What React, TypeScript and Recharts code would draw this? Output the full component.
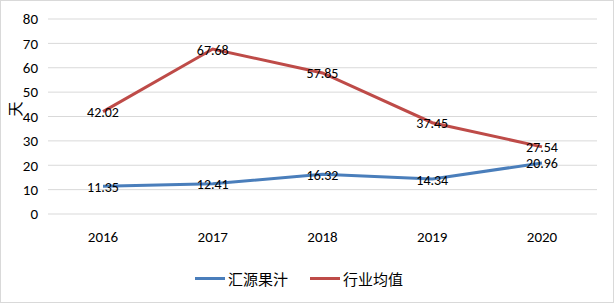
import { LineChart, Line, XAxis, YAxis, CartesianGrid, Legend, LabelList } from "recharts";

const years = ["2016", "2017", "2018", "2019", "2020"];
const huiyuan = [11.35, 12.41, 16.32, 14.34, 20.96];
const industry = [42.02, 67.68, 57.85, 37.45, 27.54];
const yTicks = [0, 10, 20, 30, 40, 50, 60, 70, 80];

const data = years.map((y, i) => ({ year: y, huiyuan: huiyuan[i], industry: industry[i] }));

const FONT = 'Calibri, Carlito, "Liberation Sans", "Noto Sans CJK SC", sans-serif';

function PointLabel(props: any) {
  const { x, y, value } = props;
  return (
    <text x={x} y={y + 1} textAnchor="middle" dominantBaseline="central" fontSize={14} fill="#000" fontFamily={FONT}>
      {value.toFixed(2)}
    </text>
  );
}

function LegendContent(props: any) {
  const items = props.payload || [];
  return (
    <div style={{ display: "flex", justifyContent: "center", gap: 22, fontFamily: FONT, fontSize: 15, color: "#000" }}>
      {items.map((it: any) => (
        <div key={it.value} style={{ display: "flex", alignItems: "center" }}>
          <span style={{ display: "inline-block", width: 30, height: 3, background: it.color, marginRight: 3 }} />
          <span>{it.value}</span>
        </div>
      ))}
    </div>
  );
}

export default function App() {
  return (
    <div style={{ position: "fixed", left: 0, top: 0, width: 614, height: 303, border: "1px solid #d9d9d9", boxSizing: "border-box", background: "#fff" }}>
      <LineChart width={612} height={301} data={data} margin={{ top: 18, right: 16, left: 0, bottom: 4 }}>
        <CartesianGrid vertical={false} stroke="#d9d9d9" />
        <XAxis dataKey="year" axisLine={false} tickLine={false} padding={{ left: 55, right: 55 }}
          tick={{ fontSize: 15, fill: "#000", fontFamily: FONT }} tickMargin={11} height={54} />
        <YAxis domain={[0, 80]} ticks={yTicks} axisLine={false} tickLine={false} width={47}
          tick={{ fontSize: 15, fill: "#000", fontFamily: FONT }} tickMargin={4}
          label={{ value: "天", angle: -90, position: "insideLeft", offset: 15, fontSize: 15, fill: "#000", fontFamily: FONT }} />
        <Legend verticalAlign="bottom" height={30} content={<LegendContent />} />
        <Line type="linear" dataKey="huiyuan" name="汇源果汁" stroke="#4A7EBB" strokeWidth={3} dot={false} isAnimationActive={false}>
          <LabelList dataKey="huiyuan" content={<PointLabel />} />
        </Line>
        <Line type="linear" dataKey="industry" name="行业均值" stroke="#BE4B48" strokeWidth={3} dot={false} isAnimationActive={false}>
          <LabelList dataKey="industry" content={<PointLabel />} />
        </Line>
      </LineChart>
    </div>
  );
}
